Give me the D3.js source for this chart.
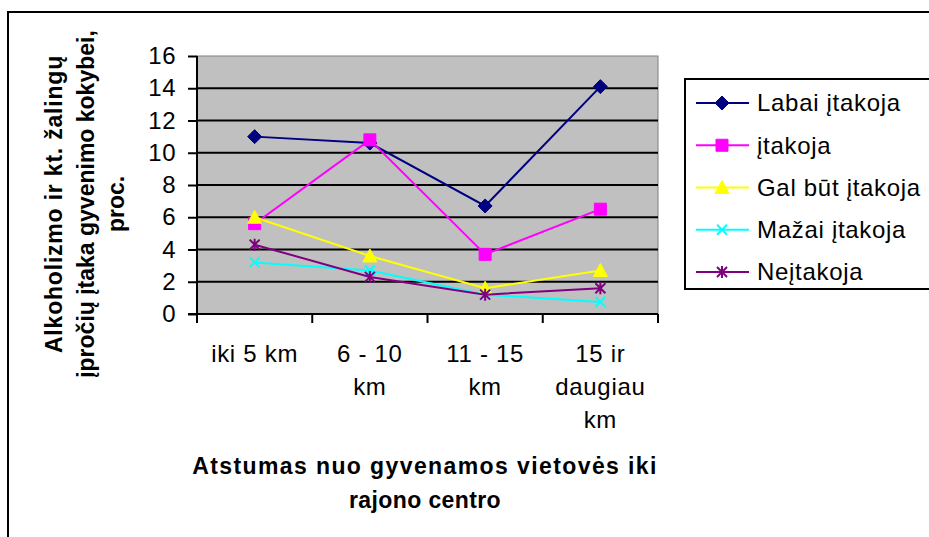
<!DOCTYPE html>
<html>
<head>
<meta charset="utf-8">
<script src="https://cdn.jsdelivr.net/npm/d3@7"></script>
<style>
  html, body { margin: 0; padding: 0; background: #fff; }
  svg { display: block; font-family: "Liberation Sans", Arial, sans-serif; }
</style>
</head>
<body>
<div id="chart"></div>
<script>
// categories, one array of lines per label
const categories = [
  ["iki 5 km"],
  ["6 - 10", "km"],
  ["11 - 15", "km"],
  ["15 ir", "daugiau", "km"]
];

const seriesNames = ["Labai įtakoja", "įtakoja", "Gal būt įtakoja", "Mažai įtakoja", "Neįtakoja"];

const labaiItakoja = [11.0, 10.6, 6.7, 14.1];
const itakoja = [5.6, 10.8, 3.7, 6.5];
const galButItakoja = [6.0, 3.6, 1.6, 2.7];
const mazaiItakoja = [3.2, 2.7, 1.2, 0.75];
const neitakoja = [4.3, 2.3, 1.2, 1.6];

const yTicks = [0, 2, 4, 6, 8, 10, 12, 14, 16];

const yTitle = ["Alkoholizmo ir kt. žalingų", "įpročių įtaka gyvenimo kokybei,", "proc."];
const xTitle = ["Atstumas nuo gyvenamos vietovės iki", "rajono centro"];

const seriesColors = ["#000080", "#FF00FF", "#FFFF00", "#00FFFF", "#800080"];
const seriesMarkers = ["diamond", "square", "triangle", "x", "star"];

const seriesValues = [labaiItakoja, itakoja, galButItakoja, mazaiItakoja, neitakoja];

const width = 929, height = 537;
const plot = { left: 197, right: 658, top: 56, bottom: 314 };

const svg = d3.select("#chart").append("svg")
  .attr("width", width)
  .attr("height", height);

// outer frame (right and bottom edges fall off the picture)
svg.append("rect")
  .attr("x", 8).attr("y", 12)
  .attr("width", 940).attr("height", 540)
  .attr("fill", "#fff")
  .attr("stroke", "#000")
  .attr("stroke-width", 2);

const x = d3.scaleBand()
  .domain(categories.map((d, i) => i))
  .range([plot.left, plot.right])
  .padding(0);

const y = d3.scaleLinear()
  .domain([0, 16])
  .range([plot.bottom, plot.top]);

const cx = i => x(i) + x.bandwidth() / 2;

// plot area
svg.append("rect")
  .attr("x", plot.left).attr("y", plot.top)
  .attr("width", plot.right - plot.left)
  .attr("height", plot.bottom - plot.top)
  .attr("fill", "#C0C0C0")
  .attr("stroke", "#808080")
  .attr("stroke-width", 1);

svg.append("g")
  .selectAll("line")
  .data(yTicks.filter(t => t > 0 && t < 16))
  .enter()
  .append("line")
  .attr("x1", plot.left).attr("x2", plot.right)
  .attr("y1", d => y(d)).attr("y2", d => y(d))
  .attr("stroke", "#000")
  .attr("stroke-width", 2);

// y axis
const yAxis = svg.append("g")
  .attr("transform", `translate(${plot.left},0)`)
  .call(d3.axisLeft(y).tickValues(yTicks).tickSize(9).tickPadding(12));
yAxis.select(".domain").attr("stroke-width", 2).attr("d", `M0,${plot.top}V${plot.bottom}`);
yAxis.selectAll(".tick line").attr("stroke-width", 2);
yAxis.selectAll(".tick text")
  .attr("font-size", 24)
  .attr("font-family", "Liberation Sans, Arial, sans-serif")
  .attr("letter-spacing", 0.5)
  .attr("fill", "#000");

// x axis: ticks at band edges
const xAxis = svg.append("g");
xAxis.append("line")
  .attr("x1", plot.left - 9).attr("x2", plot.right)
  .attr("y1", plot.bottom).attr("y2", plot.bottom)
  .attr("stroke", "#000").attr("stroke-width", 2);
xAxis.selectAll(".xtick")
  .data(d3.range(categories.length + 1))
  .enter()
  .append("line")
  .attr("class", "xtick")
  .attr("x1", i => i < categories.length ? x(i) : plot.right)
  .attr("x2", i => i < categories.length ? x(i) : plot.right)
  .attr("y1", plot.bottom).attr("y2", plot.bottom + 9)
  .attr("stroke", "#000").attr("stroke-width", 2);

xAxis.selectAll(".xlabel")
  .data(categories)
  .enter()
  .append("text")
  .attr("class", "xlabel")
  .attr("text-anchor", "middle")
  .attr("font-size", 24)
  .attr("letter-spacing", 0.7)
  .attr("y", 362)
  .each(function (lines, i) {
    d3.select(this).selectAll("tspan")
      .data(lines)
      .enter()
      .append("tspan")
      .attr("x", cx(i))
      .attr("dy", (d, j) => j === 0 ? 0 : 33)
      .text(d => d);
  });

// axis titles
svg.append("text")
  .attr("text-anchor", "middle")
  .attr("font-size", 23)
  .attr("font-weight", "bold")
  .attr("y", 474)
  .selectAll("tspan")
  .data(xTitle)
  .enter()
  .append("tspan")
  .attr("x", 425)
  .attr("dy", (d, j) => j === 0 ? 0 : 34)
  .attr("letter-spacing", (d, j) => j === 0 ? 1.4 : 0.4)
  .text(d => d);

svg.append("g")
  .attr("transform", "translate(0,204) rotate(-90)")
  .append("text")
  .attr("text-anchor", "middle")
  .attr("font-size", 23)
  .attr("font-weight", "bold")
  .selectAll("tspan")
  .data(yTitle)
  .enter()
  .append("tspan")
  .attr("x", 0)
  .attr("y", (d, j) => [62, 94, 124][j])
  .attr("letter-spacing", (d, j) => j === 0 ? 0.8 : 0)
  .text(d => d);

// markers
function markerPath(type) {
  switch (type) {
    case "diamond": return "M0,-7L7,0L0,7L-7,0Z";
    case "square": return "M-6,-6H6V6H-6Z";
    case "triangle": return "M0,-7L7,6H-7Z";
    case "x": return "M-5,-5L5,5M-5,5L5,-5";
    case "star": return "M-5,-5L5,5M-5,5L5,-5M0,-6V6";
  }
}

function drawMarker(sel, type, color) {
  const filled = type === "diamond" || type === "square" || type === "triangle";
  sel.attr("d", markerPath(type))
    .attr("fill", filled ? color : "none")
    .attr("stroke", color)
    .attr("stroke-width", filled ? 1 : 2);
}

const line = d3.line()
  .x((d, i) => cx(i))
  .y(d => y(d));

const series = svg.append("g").selectAll(".series")
  .data(seriesValues)
  .enter()
  .append("g")
  .attr("class", "series");

series.append("path")
  .attr("d", d => line(d))
  .attr("fill", "none")
  .attr("stroke", (d, k) => seriesColors[k])
  .attr("stroke-width", 2);

series.each(function (values, k) {
  d3.select(this).selectAll(".marker")
    .data(values)
    .enter()
    .append("path")
    .attr("class", "marker")
    .attr("transform", (d, i) => `translate(${cx(i)},${y(d)})`)
    .call(drawMarker, seriesMarkers[k], seriesColors[k]);
});

// legend
const legend = svg.append("g");
legend.append("rect")
  .attr("x", 685).attr("y", 79)
  .attr("width", 260).attr("height", 210)
  .attr("fill", "#fff")
  .attr("stroke", "#000")
  .attr("stroke-width", 2);

const legendY = d3.scalePoint()
  .domain(seriesNames)
  .range([103, 272]);

const entry = legend.selectAll(".entry")
  .data(seriesNames)
  .enter()
  .append("g")
  .attr("class", "entry")
  .attr("transform", d => `translate(0,${legendY(d)})`);

entry.append("line")
  .attr("x1", 696).attr("x2", 749)
  .attr("stroke", (d, k) => seriesColors[k])
  .attr("stroke-width", 2);

entry.each(function (d, k) {
  d3.select(this).append("path")
    .attr("transform", "translate(722,0)")
    .call(drawMarker, seriesMarkers[k], seriesColors[k]);
});

entry.append("text")
  .attr("x", 757)
  .attr("dy", "0.35em")
  .attr("font-size", 24)
  .attr("letter-spacing", 0.7)
  .text(d => d);
</script>
</body>
</html>
